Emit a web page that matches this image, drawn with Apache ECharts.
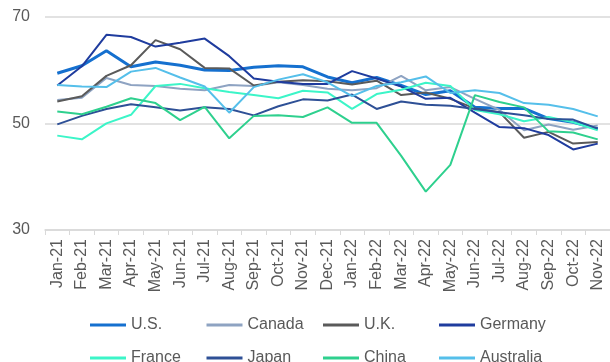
<!DOCTYPE html>
<html>
<head>
<meta charset="utf-8">
<script src="https://cdn.jsdelivr.net/npm/echarts@6/dist/echarts.min.js"></script>
<style>
html,body{margin:0;padding:0;background:#fff;}
#chart{width:610px;height:362px;}
</style>
</head>
<body>
<div id="chart"></div>
<script>
const months = ["Jan-21","Feb-21","Mar-21","Apr-21","May-21","Jun-21","Jul-21","Aug-21","Sep-21","Oct-21","Nov-21","Dec-21","Jan-22","Feb-22","Mar-22","Apr-22","May-22","Jun-22","Jul-22","Aug-22","Sep-22","Oct-22","Nov-22"];
const us =        [59.4,60.8,63.6,60.6,61.5,60.9,60.0,59.9,60.5,60.8,60.6,58.7,57.6,58.6,57.1,55.4,56.1,53.0,52.8,52.8,50.9,50.2,49.0];
const canada =    [54.4,54.8,58.5,57.2,57.0,56.5,56.2,57.2,57.0,57.7,57.2,56.5,56.2,56.6,58.9,56.2,56.8,54.6,52.5,48.7,49.8,48.8,49.6];
const uk =        [54.1,55.1,58.9,60.9,65.6,63.9,60.4,60.3,57.1,57.8,58.1,57.9,57.3,58.0,55.3,55.8,54.6,52.8,52.1,47.3,48.4,46.2,46.5];
const germany =   [57.1,60.7,66.6,66.2,64.4,65.1,65.9,62.6,58.4,57.8,57.4,57.4,59.8,58.4,56.9,54.6,54.8,52.0,49.3,49.1,47.8,45.1,46.2];
const france =    [47.7,47.0,50.0,51.6,57.0,57.4,56.6,55.9,55.3,54.7,56.1,55.8,52.7,55.5,56.3,57.6,57.0,52.5,51.7,50.4,51.2,50.2,48.7];
const japan =     [49.8,51.4,52.7,53.6,53.0,52.4,53.0,52.7,51.5,53.2,54.5,54.3,55.4,52.7,54.1,53.5,53.3,52.7,52.1,51.5,50.8,50.7,49.0];
const china =     [52.2,51.7,53.1,54.7,53.8,50.6,53.1,47.2,51.4,51.5,51.2,53.0,50.1,50.1,43.9,37.2,42.2,55.3,54.0,53.0,48.5,48.3,47.0];
const australia = [57.2,56.9,56.8,59.7,60.4,58.6,56.9,52.0,56.8,58.2,59.2,57.7,55.1,57.0,57.7,58.8,55.7,56.2,55.7,53.8,53.5,52.7,51.3];
const yTicks = [30, 50, 70];

const seriesDefs = [
  {name:"U.S.", data:us, color:"#1570CF", width:3},
  {name:"Canada", data:canada, color:"#8EA3C2", width:2},
  {name:"U.K.", data:uk, color:"#5A5A5A", width:2},
  {name:"Germany", data:germany, color:"#1F3C9E", width:2},
  {name:"France", data:france, color:"#3CF5C8", width:2},
  {name:"Japan", data:japan, color:"#2E5096", width:2},
  {name:"China", data:china, color:"#2ED08E", width:2},
  {name:"Australia", data:australia, color:"#55BFEA", width:2}
];

const font = "'Liberation Sans', Arial, sans-serif";
const legendCols = [["U.S.","France"],["Canada","Japan"],["U.K.","China"],["Germany","Australia"]];
const legendLefts = [90, 206.5, 323, 439];

const chart = echarts.init(document.getElementById('chart'), null, {renderer:'canvas'});
chart.setOption({
  animation:false,
  backgroundColor:'#ffffff',
  textStyle:{fontFamily:font},
  grid:{left:45, right:-5.4, top:16.7, bottom:132, containLabel:false},
  xAxis:{
    type:'category',
    data:months,
    boundaryGap:true,
    axisLine:{lineStyle:{color:'#d9d9d9', width:1.5}},
    axisTick:{show:true, length:5, lineStyle:{color:'#d9d9d9', width:1}},
    axisLabel:{rotate:90, interval:0, margin:9, fontSize:16, color:'#595959', fontFamily:font}
  },
  yAxis:{
    type:'value',
    min:yTicks[0], max:yTicks[yTicks.length-1], interval:20,
    axisLine:{show:false}, axisTick:{show:false},
    splitLine:{lineStyle:{color:'#d9d9d9', width:1.5}},
    axisLabel:{margin:15, fontSize:16, color:'#595959', fontFamily:font}
  },
  legend: legendCols.map((col, i) => ({
    orient:'vertical',
    left:legendLefts[i],
    top:317,
    height:60,
    padding:0,
    itemWidth:36, itemHeight:3, itemGap:17,
    icon:'rect',
    textStyle:{fontSize:16, color:'#595959', lineHeight:14, fontFamily:font},
    data:col
  })),
  series: seriesDefs.map(s => ({
    name:s.name, type:'line', data:s.data,
    symbol:'none', smooth:false,
    color:s.color,
    lineStyle:{color:s.color, width:s.width},
    itemStyle:{color:s.color}
  }))
});
</script>
</body>
</html>
